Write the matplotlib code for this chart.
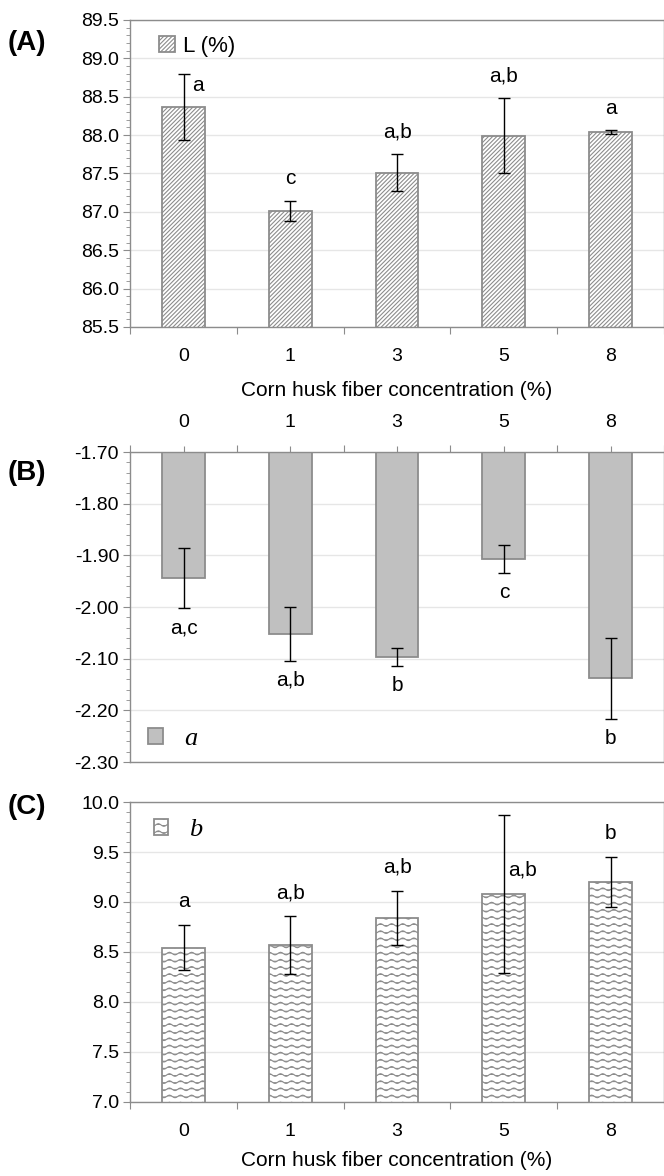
import warnings
import numpy as np
import matplotlib
matplotlib.use("Agg")
import matplotlib.pyplot as plt
import matplotlib.hatch as mhatch
from matplotlib.path import Path
from matplotlib.ticker import MultipleLocator, FormatStrFormatter, FixedLocator, NullFormatter

warnings.filterwarnings("ignore")

# ============================================================
# Data
# ============================================================
conc = ["0", "1", "3", "5", "8"]

L_mean = [88.36, 87.01, 87.51, 87.99, 88.04]
L_err = [0.43, 0.13, 0.24, 0.49, 0.02]
L_sig = ["a", "c", "a,b", "a,b", "a"]

a_mean = [-1.944, -2.052, -2.097, -1.907, -2.138]
a_err = [0.058, 0.052, 0.017, 0.028, 0.079]
a_sig = ["a,c", "a,b", "b", "c", "b"]

b_mean = [8.54, 8.57, 8.84, 9.08, 9.20]
b_err = [0.225, 0.287, 0.272, 0.79, 0.25]
b_sig = ["a", "a,b", "a,b", "a,b", "b"]

XLABEL = "Corn husk fiber concentration (%)"


# ============================================================
# Wavy hatch ('~') for the b* panel
# ============================================================
class WaveHatch(mhatch.HatchPatternBase):
    rows = 14
    waves = 9

    def __init__(self, hatch, density):
        self.num_rows = self.rows if '~' in hatch else 0
        self.n_pts = 8 * self.waves + 1
        self.num_vertices = self.num_rows * self.n_pts

    def set_vertices_and_codes(self, vertices, codes):
        x = np.linspace(0, 1, self.n_pts)
        wave = 0.013 * np.sin(2 * np.pi * self.waves * x)
        for i in range(self.num_rows):
            y0 = (i + 0.5) / self.num_rows
            s = slice(i * self.n_pts, (i + 1) * self.n_pts)
            vertices[s, 0] = x
            vertices[s, 1] = y0 + wave
            codes[s] = Path.LINETO
            codes[i * self.n_pts] = Path.MOVETO


mhatch._hatch_types.append(WaveHatch)

plt.rcParams['font.family'] = ['Liberation Sans', 'DejaVu Sans']
plt.rcParams['hatch.linewidth'] = 0.8

EDGE = '#8c8c8c'
GRID = '#e6e6e6'
SERIF_IT = {'family': 'Liberation Serif', 'style': 'italic', 'size': 19}


def style_axis(ax, ylim, major, minor, fmt, top=False):
    x = np.arange(len(conc))
    ax.set_xlim(-0.5, len(conc) - 0.5)
    ax.set_ylim(*ylim)
    ax.yaxis.set_major_locator(MultipleLocator(major))
    ax.yaxis.set_minor_locator(MultipleLocator(minor))
    ax.yaxis.set_major_formatter(FormatStrFormatter(fmt))
    ax.tick_params(axis='y', which='major', length=5, width=0.8, color=EDGE,
                   labelsize=14, pad=3)
    ax.tick_params(axis='y', which='minor', length=3, width=0.6, color=EDGE)
    # category labels at centres, tick marks between categories
    ax.xaxis.set_major_locator(FixedLocator(np.arange(len(conc) + 1) - 0.5))
    ax.xaxis.set_major_formatter(NullFormatter())
    ax.set_xticks(x, conc, minor=True)
    if top:
        ax.xaxis.tick_top()
        ax.tick_params(axis='x', which='minor', length=4, width=0.8, color=EDGE,
                       labelsize=14, pad=11)
    else:
        ax.tick_params(axis='x', which='minor', length=0, labelsize=14, pad=15)
    ax.tick_params(axis='x', which='major', length=5, width=0.8, color=EDGE)
    ax.yaxis.grid(True, color=GRID, lw=1)
    ax.set_axisbelow(True)
    for s in ax.spines.values():
        s.set_color(EDGE)
        s.set_linewidth(1)


fig = plt.figure(figsize=(6.64, 11.76), dpi=100)
axA = fig.add_axes([0.196, 0.722, 0.804, 0.261])
axB = fig.add_axes([0.196, 0.352, 0.804, 0.2636])
axC = fig.add_axes([0.196, 0.063, 0.804, 0.255])
x = np.arange(len(conc))
w = 0.4

# --- (A) L ---
style_axis(axA, (85.5, 89.5), 0.5, 0.1, '%.1f')
axA.bar(x, L_mean, w, color='white', edgecolor=EDGE, hatch='////////',
        lw=1.3, label='L (%)')
axA.errorbar(x, L_mean, yerr=L_err, fmt='none', ecolor='black', elinewidth=1,
             capsize=4, capthick=1)
for i, s in enumerate(L_sig):
    if i == 0:
        axA.annotate(s, (x[i], L_mean[i] + 0.29), xytext=(6, 0),
                     textcoords='offset points', ha='left', va='center', fontsize=15)
    else:
        axA.annotate(s, (x[i], L_mean[i] + L_err[i]), xytext=(0, 16),
                     textcoords='offset points', ha='center', va='center', fontsize=15)
axA.set_xlabel(XLABEL, fontsize=15, labelpad=12)
axA.legend(loc='upper left', bbox_to_anchor=(0.025, 1.0), frameon=False,
           handlelength=0.72, handleheight=0.72, handletextpad=0.35,
           fontsize=16, borderaxespad=0.3)

# --- (B) a* ---
b_top = -1.70
style_axis(axB, (-2.30, b_top), 0.1, 0.02, '%.2f', top=True)
axB.bar(x, np.array(a_mean) - b_top, w, bottom=b_top, color='#c0c0c0',
        edgecolor=EDGE, lw=1.3, label='a')
axB.errorbar(x, a_mean, yerr=a_err, fmt='none', ecolor='black', elinewidth=1,
             capsize=4, capthick=1)
for i, s in enumerate(a_sig):
    axB.annotate(s, (x[i], a_mean[i] - a_err[i]), xytext=(0, -14),
                 textcoords='offset points', ha='center', va='center', fontsize=15)
axB.legend(loc='lower left', bbox_to_anchor=(0.012, 0.0), frameon=False,
           handlelength=0.55, handleheight=0.55, handletextpad=0.8,
           prop=SERIF_IT, borderaxespad=0.05)

# --- (C) b* ---
style_axis(axC, (7.0, 10.0), 0.5, 0.1, '%.1f')
axC.bar(x, b_mean, w, color='white', edgecolor=EDGE, hatch='~', lw=1.3, label='b')
axC.errorbar(x, b_mean, yerr=b_err, fmt='none', ecolor='black', elinewidth=1,
             capsize=4, capthick=1)
for i, s in enumerate(b_sig):
    if i == 3:
        axC.annotate(s, (x[i], b_mean[i] + 0.245), xytext=(3, 0),
                     textcoords='offset points', ha='left', va='center', fontsize=15)
    else:
        axC.annotate(s, (x[i], b_mean[i] + b_err[i]), xytext=(0, 17),
                     textcoords='offset points', ha='center', va='center', fontsize=15)
axC.set_xlabel(XLABEL, fontsize=15, labelpad=8)
axC.legend(loc='upper left', bbox_to_anchor=(0.012, 1.0), frameon=False,
           handlelength=0.55, handleheight=0.55, handletextpad=0.8,
           prop=SERIF_IT, borderaxespad=0.25)

# panel letters (pixel centres from the top of the figure)
for lab, ypix in [('(A)', 43), ('(B)', 473), ('(C)', 807)]:
    fig.text(0.012, 1 - ypix / 1176, lab, fontsize=20, fontweight='bold',
             va='center', ha='left')

fig.savefig('out.png', dpi=100)
